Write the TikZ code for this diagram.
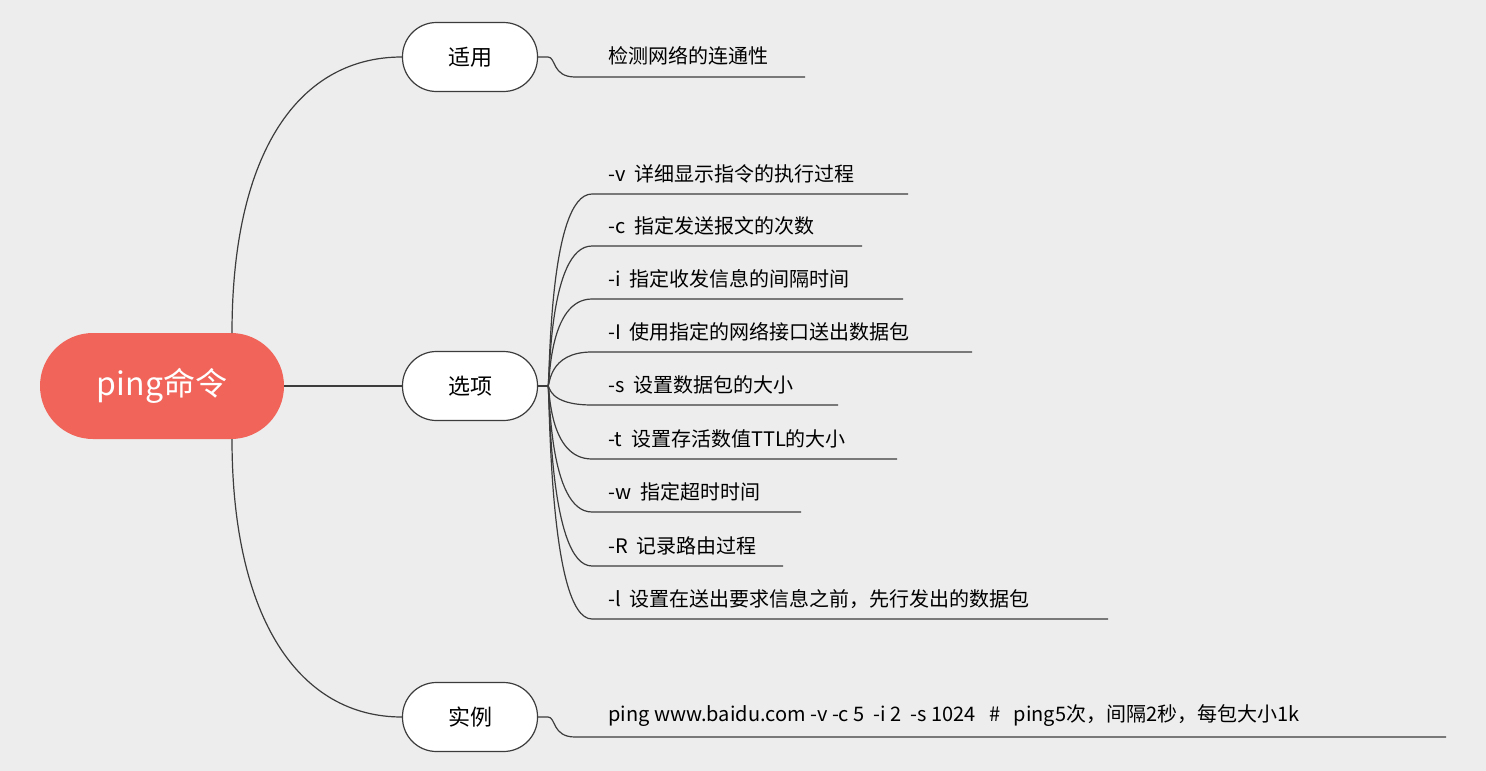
\documentclass[tikz,border=0pt]{standalone}
\usepackage{fontspec}
\setmainfont{Noto Sans CJK SC}
\definecolor{bg}{HTML}{EDEDED}
\definecolor{rootc}{HTML}{F0645A}
\definecolor{ln}{HTML}{3C3C3C}
\begin{document}
\begin{tikzpicture}[x=1pt,y=-1pt,
  conn/.style={draw=ln,line width=1.2pt},
  branch/.style={draw=ln,line width=1.2pt,fill=white,rounded corners=34pt,minimum width=135pt,minimum height=69pt,font=\fontsize{22}{26}\selectfont,inner sep=0pt},
  leaf/.style={anchor=west,font=\fontsize{20}{24}\selectfont,text=black,inner sep=0pt}]
\fill[bg] (0,0) rectangle (1486,771);
\useasboundingbox (0,0) rectangle (1486,771);
\node[fill=rootc,rounded corners=53pt,minimum width=244pt,minimum height=106pt,text=white,font=\fontsize{32}{36}\selectfont,inner sep=0pt] (root) at (162,386) {ping命令};
\node[branch] (b1) at (470,57) {适用};
\node[branch] (b2) at (470,386) {选项};
\node[branch] (b3) at (470,717) {实例};
\draw[conn] (232,333) .. controls (232,150) and (300,57) .. (b1.west);
\draw[conn] (232,439) .. controls (232,620) and (300,717) .. (b3.west);
\draw[conn] (root.east) -- (b2.west);
% leaf 1
\node[leaf] (l1) at (608,56) {检测网络的连通性};
\coordinate (e1) at (805,77);
\draw[conn] (b1.east) -- (548,57) .. controls (556,57) and (552,77) .. (575,77) -- (e1);
% options
\foreach \y/\e/\t [count=\i] in {194/908/{-v\ \ 详细显示指令的执行过程},246/862/{-c\ \ 指定发送报文的次数},299/903/{-i\ \ 指定收发信息的间隔时间},352/972/{-I\ \ 使用指定的网络接口送出数据包},405/838/{-s\ \ 设置数据包的大小},459/897/{-t\ \ 设置存活数值TTL的大小},512/801/{-w\ \ 指定超时时间},566/783/{-R\ \ 记录路由过程},619/1108/{-l\ \ 设置在送出要求信息之前，先行发出的数据包}}{
  \node[leaf] (o\i) at (608,\y-20) {\t};
  \coordinate (oe\i) at (\e,\y);
  \draw[conn] (b2.east) -- (548,386) .. controls (550,386) and (548,\y) .. (592,\y) -- (oe\i);
}
% example
\node[leaf] (l3) at (608,716) {ping www.baidu.com -v -c 5\ \ -i 2\ \ -s 1024\ \ \ \#\ \ \ ping5次，间隔2秒，每包大小1k};
\coordinate (e3) at (1446,737);
\draw[conn] (b3.east) -- (548,717) .. controls (556,717) and (552,737) .. (575,737) -- (e3);
\end{tikzpicture}
\end{document}
